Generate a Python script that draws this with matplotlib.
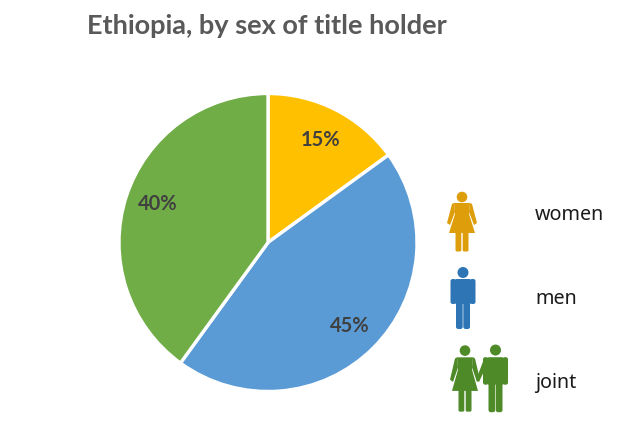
#!/usr/bin/python3
import matplotlib
matplotlib.use('Agg')
import matplotlib.pyplot as plt
from matplotlib.patches import Circle, Polygon, FancyBboxPatch

# share of land title holders
categories = ['women', 'men', 'joint']
shares = [15, 45, 40]
pie_colors = ['#FFC000', '#5B9BD5', '#70AD47']
title = 'Ethiopia, by sex of title holder'

W, H = 641, 439
fig = plt.figure(figsize=(W / 100, H / 100), dpi=100, facecolor='white')

# pie sits in its own square axes
ax = fig.add_axes([119 / W, (H - 393) / H, 298 / W, 299 / H])
wedges, texts, pcts = ax.pie(shares, colors=pie_colors, startangle=90, counterclock=False,
                             autopct='%d%%', pctdistance=0.78, radius=1,
                             wedgeprops={'edgecolor': 'white', 'linewidth': 2.4})
for p in pcts:
    p.set_fontfamily('Lato')
    p.set_fontweight('bold')
    p.set_fontsize(14.5)
    p.set_color('#404040')
# the 40% label sits a little higher in the original
pcts[2].set_y(pcts[2].get_position()[1] + 0.025)
ax.set_xlim(-1, 1)
ax.set_ylim(-1, 1)

# overlay in pixel coords for title and the legend icons
ov = fig.add_axes([0, 0, 1, 1], facecolor='none')
ov.set_xlim(0, W)
ov.set_ylim(H, 0)
ov.axis('off')

ov.text(87, 26, title, fontfamily='Lato', fontweight='bold', fontsize=19.5,
        color='#595959', va='center', ha='left')


def rbox(x, y, w, h, c, r=1.5):
    ov.add_patch(FancyBboxPatch((x + r, y + r), w - 2 * r, h - 2 * r,
                                boxstyle='round,pad=%g,rounding_size=%g' % (r, r),
                                fc=c, ec='none'))


def poly(pts, c):
    ov.add_patch(Polygon(pts, fc=c, ec='none', joinstyle='round'))


def woman(cx, top, c, sy=1.0):
    ov.add_patch(Circle((cx, top + 5 * sy), 5.3, fc=c, ec='none'))
    # dress
    poly([(cx - 8, top + 11 * sy), (cx + 8, top + 11 * sy), (cx + 7, top + 22 * sy),
          (cx + 13, top + 41 * sy), (cx - 13, top + 41 * sy), (cx - 7, top + 22 * sy)], c)
    # arms
    poly([(cx - 8, top + 11 * sy), (cx - 10, top + 12 * sy), (cx - 15, top + 31 * sy),
          (cx - 12, top + 33 * sy), (cx - 7, top + 20 * sy)], c)
    poly([(cx + 8, top + 11 * sy), (cx + 10, top + 12 * sy), (cx + 15, top + 31 * sy),
          (cx + 12, top + 33 * sy), (cx + 7, top + 20 * sy)], c)
    # legs
    rbox(cx - 6.5, top + 40 * sy, 5.8, 19.5 * sy, c)
    rbox(cx + 0.7, top + 40 * sy, 5.8, 19.5 * sy, c)


def man(cx, top, c, sy=1.0):
    ov.add_patch(Circle((cx, top + 5.5 * sy), 5.5, fc=c, ec='none'))
    rbox(cx - 9, top + 12 * sy, 18, 25 * sy, c, 3)
    rbox(cx - 12.5, top + 12 * sy, 5.5, 25 * sy, c, 2.2)
    rbox(cx + 7, top + 12 * sy, 5.5, 25 * sy, c, 2.2)
    rbox(cx - 7, top + 34 * sy, 6.7, 28 * sy, c, 2.2)
    rbox(cx + 0.3, top + 34 * sy, 6.7, 28 * sy, c, 2.2)


woman(462, 193, '#DE9E0C')
man(463, 268, '#2E75B6')
woman(465, 346, '#4E8A28', 1.12)
man(495.5, 345, '#4E8A28', 1.1)
# joined hands
poly([(484, 360), (486, 368), (479, 383), (476, 381)], '#4E8A28')

# legend labels
for name, y in zip(categories, [215, 299, 383]):
    ov.text(535, y, name, fontfamily='Noto Sans', fontsize=14.2, color='#1A1A1A',
            va='center', ha='left')

fig.savefig('out.png', dpi=100)
